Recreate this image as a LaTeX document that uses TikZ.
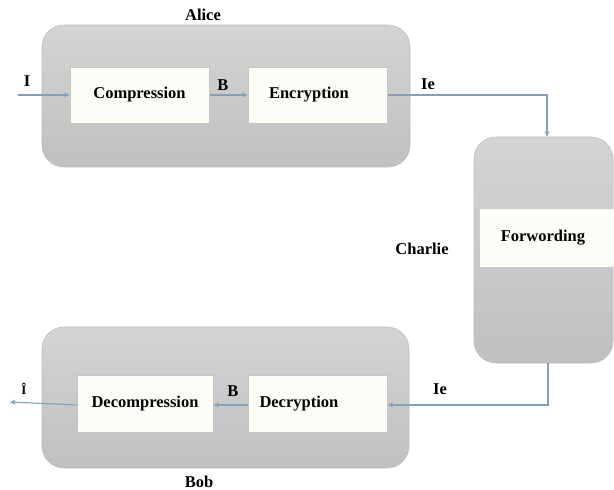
\documentclass[tikz,border=0pt]{standalone}
\usepackage{fontspec}
\setmainfont{Liberation Serif}
\usetikzlibrary{arrows.meta,calc}
\definecolor{panelTop}{HTML}{D4D4D4}
\definecolor{panelBot}{HTML}{C0C0C0}
\definecolor{panelEdge}{HTML}{BDBDBD}
\definecolor{boxFill}{HTML}{FDFDF8}
\definecolor{boxEdge}{HTML}{C5C8BC}
\definecolor{wire}{HTML}{86A0BA}
\tikzset{
  panel/.style={rounded corners=22pt, top color=panelTop, bottom color=panelBot,
    draw=panelEdge, line width=0.6pt, inner sep=0pt},
  stagebox/.style={fill=boxFill, draw=boxEdge, line width=1pt,
    minimum width=139pt, minimum height=56pt, inner sep=0pt,
    font=\fontsize{16.5}{19}\selectfont\bfseries},
  lbl/.style={font=\fontsize{16.5}{19}\selectfont\bfseries, inner sep=0pt},
  wirearrow/.style={draw=wire, line width=1.1pt, -{Stealth[length=5.5pt,width=5pt]}}
}
\begin{document}
\begin{tikzpicture}[x=1pt,y=-1pt]
\useasboundingbox (0,0) rectangle (614,490);
% panels
\node[panel, minimum width=368pt, minimum height=142pt] (alice) at (226,96) {};
\node[panel, minimum width=367pt, minimum height=141pt] (bob) at (225.5,397.5) {};
\node[panel, minimum width=139pt, minimum height=226pt] (charlie) at (543.5,250) {};
% stage boxes
\node[stagebox] (comp) at (139.5,95) {Compression};
\node[stagebox, text width=111pt, align=left] (enc) at (317.5,95) {\hspace*{7pt}Encryption};
\node[stagebox, minimum width=136pt, minimum height=57pt] (decomp) at (145,403.5) {Decompression};
\node[stagebox, minimum height=57pt, text width=116pt, align=left] (dec) at (317.5,403.5) {Decryption};
\node[stagebox, draw=none, minimum width=134pt, minimum height=58pt] (fwd) at (547,238) {\hspace*{-8pt}Forwording};
% labels
\node[lbl] (alicel) at (203,15) {Alice};
\node[lbl] (bobl) at (199,482) {Bob};
\node[lbl] (charliel) at (422,249) {Charlie};
\node[lbl] (inl) at (27,81) {I};
\node[lbl] (outl) at (24,389) {\fontsize{13}{15}\selectfont Î};
\node[lbl] (b1) at (223,85) {B};
\node[lbl] (b2) at (233,391) {B};
\node[lbl] (ie1) at (428,84) {Ie};
\node[lbl] (ie2) at (440,389) {Ie};
% connectors
\coordinate (inS) at (18,95);
\coordinate (outE) at (10,402);
\draw[wirearrow] (inS) -- (comp.west);
\draw[wirearrow] (comp.east) -- (enc.west);
\draw[wirearrow] (enc.east) -| ([xshift=3.5pt]charlie.north);
\draw[wirearrow] ([xshift=4.5pt]charlie.south) |- ([yshift=-1.5pt]dec.east);
\draw[wirearrow] ([yshift=-1.5pt]dec.west) -- ([yshift=-1.5pt]decomp.east);
\draw[wirearrow] ([yshift=-1.5pt]decomp.west) -- (outE);
\end{tikzpicture}
\end{document}
